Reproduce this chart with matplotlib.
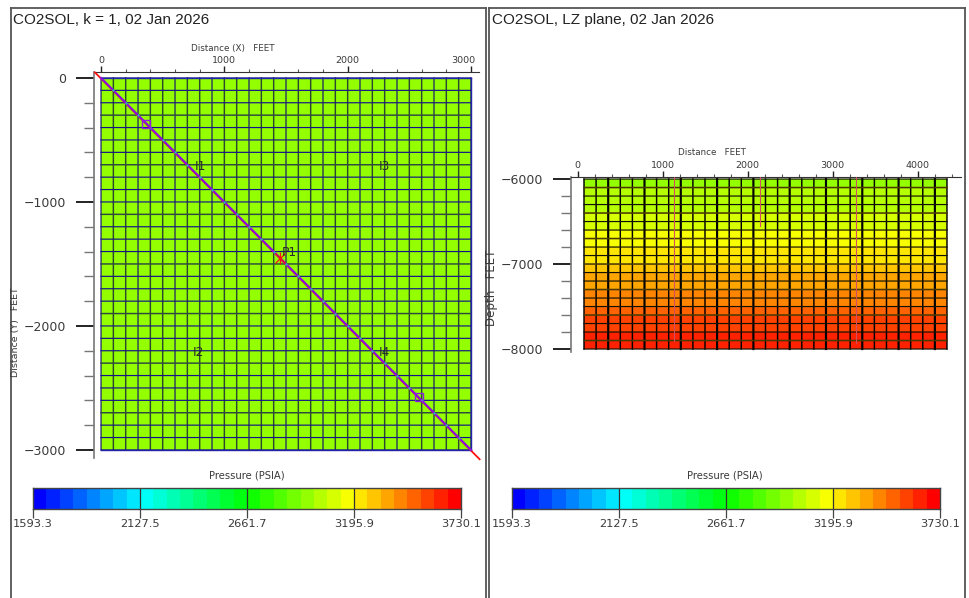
import numpy as np
import matplotlib
matplotlib.use("Agg")
import matplotlib.pyplot as plt
from matplotlib.colors import LinearSegmentedColormap, Normalize
from matplotlib.lines import Line2D
from matplotlib.ticker import MultipleLocator
from matplotlib.transforms import ScaledTranslation

W, H = 969, 598

# ---- data ----
CBAR_LEVELS = [1593.3, 2127.5, 2661.7, 3195.9, 3730.1]
CBAR_LABELS = ["1593.3", "2127.5", "2661.7", "3195.9", "3730.1"]
PLAN_PRESSURE = 2962.0
PLAN_NCOLS = 30
PLAN_NROWS = 30
PLAN_X_RANGE = [0, 3000]
PLAN_Y_RANGE = [0, -3000]
PLAN_X_TICKS = [0, 1000, 2000, 3000]
SECTION_PRESSURE = [2962, 3029, 3029, 3029, 3096, 3096, 3163, 3163, 3229, 3229,
                    3296, 3363, 3363, 3430, 3430, 3497, 3563, 3563, 3630, 3630]
SECTION_NCOLS = 30
SECTION_X_RANGE = [75, 4345]
SECTION_Y_RANGE = [-6000, -8000]
WELL_NAMES = ["I1", "I2", "I3", "I4", "P1"]
WELL_X = [762, 740, 2250, 2255, 1468]
WELL_Y = [-718, -2215, -718, -2218, -1411]
TRAJ_X = [-50, 3070]
TRAJ_Y = [45, -3075]
TRAJ_IN_X = [0, 3000]
TRAJ_IN_Y = [0, -3000]
BOX_X = [365, 2579]
BOX_Y = [-371, -2572]
P1_X = [1452]
P1_Y = [-1452]
SECTION_WELL_X = [1133, 2144, 3279]
SECTION_WELL_BOTTOM = [-7900, -6550, -7930]
SECTION_WELL_TOP = -5965

cmap = LinearSegmentedColormap.from_list(
    "pressure", ["#0000ff", "#00ffff", "#00ff00", "#ffff00", "#ff0000"], N=32)
norm = Normalize(CBAR_LEVELS[0], CBAR_LEVELS[-1])

fig = plt.figure(figsize=(W / 100, H / 100), dpi=100, facecolor="white")
plt.rcParams["font.family"] = "DejaVu Sans"
TXT = "#3a3a3a"


def box(x0, y0, x1, y1, **kw):
    """Pixel box (top-left origin) to figure axes."""
    return fig.add_axes([x0 / W, 1 - y1 / H, (x1 - x0) / W, (y1 - y0) / H], **kw)


def frame(x0, x1):
    for xs, ys in (([x0, x0], [8, 598]), ([x1, x1], [8, 598]), ([x0, x1], [8, 8])):
        fig.add_artist(Line2D([v / W for v in xs], [1 - v / H for v in ys],
                              color="#555555", lw=1.3))


def style_axes(ax, xlabel, ylabel, xlab_px, ylab_px, ylab_size):
    ax.patch.set_alpha(0)
    ax.xaxis.tick_top()
    for s in ("right", "bottom"):
        ax.spines[s].set_visible(False)
    ax.spines["top"].set_color("#333333")
    ax.spines["left"].set_color("#777777")
    ax.spines["left"].set_linewidth(1.2)
    ax.xaxis.set_major_locator(MultipleLocator(1000))
    ax.xaxis.set_minor_locator(MultipleLocator(200))
    ax.yaxis.set_major_locator(MultipleLocator(1000))
    ax.yaxis.set_minor_locator(MultipleLocator(200))
    ax.tick_params(axis="x", which="major", length=4, width=1.0, color="#222222",
                   labelsize=6.8, pad=1, labelcolor=TXT)
    ax.tick_params(axis="x", which="minor", length=2.5, width=0.8, color="#555555")
    ax.tick_params(axis="y", which="major", length=13, width=1.3, color="#111111",
                   labelsize=9, pad=7, labelcolor=TXT)
    ax.tick_params(axis="y", which="minor", length=7, width=1.0, color="#777777")
    fig.text(xlab_px[0] / W, 1 - xlab_px[1] / H, xlabel, fontsize=6.3,
             ha="center", va="center", color=TXT)
    fig.text(ylab_px[0] / W, 1 - ylab_px[1] / H, ylabel, fontsize=ylab_size, rotation=90,
             ha="center", va="center", color=TXT)


def cbar(x0, x1, title_x):
    cax = box(x0, 488, x1, 509)
    edges = np.linspace(CBAR_LEVELS[0], CBAR_LEVELS[-1], 33)
    cax.pcolormesh(edges, [0, 1], ((edges[:-1] + edges[1:]) / 2)[None, :],
                   cmap=cmap, norm=norm)
    cax.set_yticks([])
    cax.set_xticks(CBAR_LEVELS, CBAR_LABELS)
    cax.tick_params(axis="x", length=6.5, width=0.9, color="#444444", pad=0.5,
                    labelsize=8.2, labelcolor=TXT)
    for v in CBAR_LEVELS[1:-1]:
        cax.axvline(v, color="#333333", lw=0.9)
    for s in cax.spines.values():
        s.set_color("#444444")
        s.set_linewidth(1.0)
    fig.text(title_x / W, 1 - 475 / H, "Pressure (PSIA)", fontsize=7.2,
             ha="center", va="center", color=TXT)


# ---- frames and titles ----
frame(10.5, 485.5)
frame(488.5, 965)
fig.text(13 / W, 1 - 20 / H, "CO2SOL, k = 1, 02 Jan 2026", family="Liberation Sans",
         fontsize=11, va="center", color="#222222")
fig.text(492 / W, 1 - 20 / H, "CO2SOL, LZ plane, 02 Jan 2026", family="Liberation Sans",
         fontsize=11, va="center", color="#222222")

# ---- left: plan view ----
ax = box(94, 72, 479, 458)
ax.set_xlim(-57, 3065)
ax.set_ylim(-3065, 48)
xe = np.linspace(*PLAN_X_RANGE, PLAN_NCOLS + 1)
ye = np.linspace(*PLAN_Y_RANGE, PLAN_NROWS + 1)
ax.pcolormesh(xe, ye, np.full((PLAN_NROWS, PLAN_NCOLS), PLAN_PRESSURE),
              cmap=cmap, norm=norm, zorder=1)
for i, x in enumerate(xe):
    navy = i % 3 == 0
    ax.plot([x, x], PLAN_Y_RANGE, color="#16166e" if navy else "#2c4a30",
            lw=0.85 if navy else 1.05, zorder=2, snap=False)
for i, y in enumerate(ye):
    navy = i % 4 != 3
    ax.plot(PLAN_X_RANGE, [y, y], color="#14148a" if navy else "#2c4a40",
            lw=0.85 if navy else 1.05, zorder=2, snap=False)
ax.plot(PLAN_X_RANGE, [PLAN_Y_RANGE[0]] * 2, color="#2222aa", lw=1.0, zorder=2)
ax.plot(PLAN_X_RANGE, [PLAN_Y_RANGE[1]] * 2, color="#2222aa", lw=1.0, zorder=2)
ax.plot([PLAN_X_RANGE[1]] * 2, PLAN_Y_RANGE, color="#2222aa", lw=1.0, zorder=2)
ax.plot(TRAJ_X, TRAJ_Y, color="#ff1010", lw=1.3, zorder=3, clip_on=False)
ax.plot(TRAJ_IN_X, TRAJ_IN_Y, color="#8a10e0", lw=1.5, zorder=4)
ax.plot(xe[1:-1], -xe[1:-1], ls="none", marker="o", ms=1.6, mfc="#20c8b0", mec="none", zorder=5)
ax.plot(BOX_X, BOX_Y, ls="none", marker="s", ms=6.3, mfc="none", mec="#9020e0",
        mew=1.0, zorder=5)
ax.plot(P1_X, P1_Y, ls="none", marker="x", ms=7.5, mec="#ff1010", mew=0.9, zorder=5)
ax.plot(P1_X, P1_Y, ls="none", marker="|", ms=9, mec="#ff1010", mew=0.9, zorder=5)
for name, x, y in zip(WELL_NAMES, WELL_X, WELL_Y):
    ax.text(x, y, name, fontsize=8.8, color="#2a2a2a", va="center", zorder=6)
style_axes(ax, "Distance (X)   FEET", "Distance (Y)   FEET", (233, 48), (16, 332), 6.8)
ax.set_xticks(PLAN_X_TICKS)
ax.get_xticklabels()[-1].set_transform(
    ax.get_xticklabels()[-1].get_transform()
    + ScaledTranslation(-8 / 100, 0, fig.dpi_scale_trans))
cbar(33, 461, 247)

# ---- right: section view ----
ax2 = box(571, 176.5, 961, 352)
ax2.set_xlim(-78, 4510)
ax2.set_ylim(-8035, -5970)
xe2 = np.linspace(*SECTION_X_RANGE, SECTION_NCOLS + 1)
ye2 = np.linspace(*SECTION_Y_RANGE, len(SECTION_PRESSURE) + 1)
ax2.pcolormesh(xe2, ye2, np.tile(np.array(SECTION_PRESSURE, float)[:, None], SECTION_NCOLS),
               cmap=cmap, norm=norm, zorder=1)
for i, x in enumerate(xe2):
    ax2.plot([x, x], SECTION_Y_RANGE, color="#000000",
             lw=1.55 if i % 3 == 2 else 1.05, zorder=2, snap=False)
for i, y in enumerate(ye2):
    heavy = i % 3 != 1
    ax2.plot(SECTION_X_RANGE, [y, y], color="#111100" if heavy else "#4a3a00",
             lw=0.85 if heavy else 1.15, zorder=2, snap=False)
for x, b in zip(SECTION_WELL_X, SECTION_WELL_BOTTOM):
    ax2.plot([x, x], [SECTION_WELL_TOP, b], color="#d05060", lw=0.8, zorder=3)
style_axes(ax2, "Distance   FEET", "Depth   FEET", (712, 152), (491, 288), 8.6)
cbar(512, 940, 725)

fig.savefig("out.png", dpi=100)
